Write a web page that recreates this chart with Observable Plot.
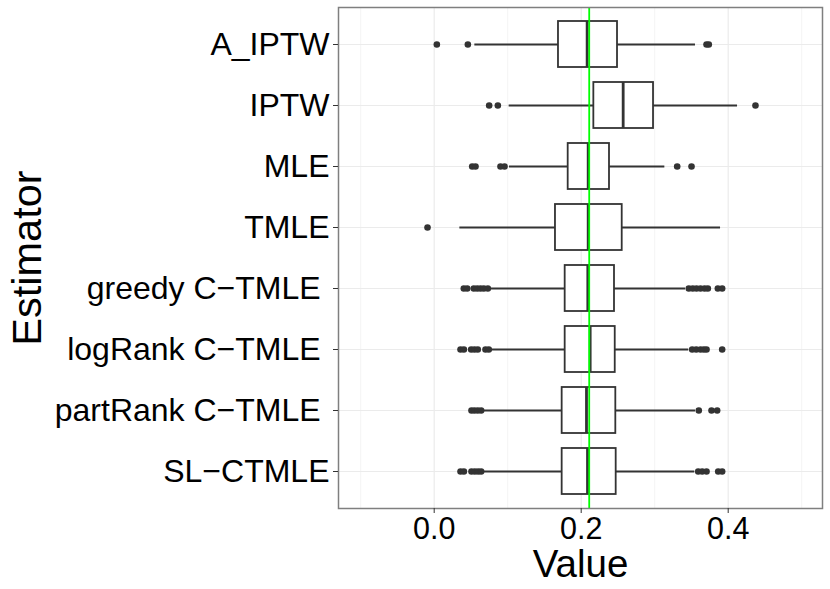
<!DOCTYPE html>
<html>
<head>
<meta charset="utf-8">
<script src="https://cdn.jsdelivr.net/npm/d3@7"></script>
<script src="https://cdn.jsdelivr.net/npm/@observablehq/plot@0.6"></script>
<style>
  html, body { margin: 0; padding: 0; background: white; }
</style>
</head>
<body>
<div id="chart"></div>
<script>
// Categories (top to bottom); trailing space mirrors the original labels
const categories = ["A_IPTW", "IPTW", "MLE", "TMLE", "greedy C\u2212TMLE ", "logRank C\u2212TMLE ", "partRank C\u2212TMLE ", "SL\u2212CTMLE"];

// Box summary statistics
const whiskerLow  = [0.0553, 0.1020, 0.1024, 0.0349, 0.0776, 0.0776, 0.0684, 0.0684];
const quartile1   = [0.1691, 0.2172, 0.1823, 0.1650, 0.1782, 0.1782, 0.1741, 0.1741];
const median      = [0.2081, 0.2571, 0.2095, 0.2095, 0.2090, 0.2122, 0.2072, 0.2086];
const quartile3   = [0.2494, 0.2984, 0.2385, 0.2558, 0.2453, 0.2463, 0.2471, 0.2476];
const whiskerHigh = [0.3555, 0.4127, 0.3138, 0.3896, 0.3419, 0.3464, 0.3555, 0.3546];

// Outliers per category
const outliers = [
  [0.0036, 0.0458, 0.3705, 0.3736],
  [0.0748, 0.0866, 0.4371],
  [0.0517, 0.0562, 0.0902, 0.0957, 0.3306, 0.3501],
  [-0.0091],
  [0.0403, 0.0449, 0.0539, 0.0585, 0.0630, 0.0675, 0.0730, 0.3464, 0.3518, 0.3569, 0.3623, 0.3678, 0.3723, 0.3859, 0.3918],
  [0.0358, 0.0404, 0.0503, 0.0548, 0.0593, 0.0698, 0.0743, 0.3510, 0.3565, 0.3623, 0.3668, 0.3705, 0.3918],
  [0.0507, 0.0548, 0.0593, 0.0639, 0.3600, 0.3773, 0.3850],
  [0.0358, 0.0404, 0.0507, 0.0553, 0.0598, 0.0639, 0.3592, 0.3646, 0.3705, 0.3864, 0.3918]
];

// Reference (true) value line
const truth = [0.2109];

// Axis ticks
const majorTicks = [0.0, 0.2, 0.4];
const minorTicks = [-0.1, 0.1, 0.3, 0.5];
const xDomain = [-0.1302, 0.5283];

const rows = categories.map((name, i) => ({
  name, lo: whiskerLow[i], q1: quartile1[i], med: median[i], q3: quartile3[i], hi: whiskerHigh[i]
}));
const outlierRows = categories.flatMap((name, i) => outliers[i].map(value => ({name, value})));

const ink = "#333333";

const chart = Plot.plot({
  width: 830,
  height: 589,
  marginLeft: 338,
  marginRight: 8,
  marginTop: 7,
  marginBottom: 81,
  style: {fontFamily: "'Liberation Sans', Arial, Helvetica, sans-serif", background: "white", color: "black"},
  x: {domain: xDomain, axis: null, label: null},
  y: {domain: categories, paddingInner: 0.25, paddingOuter: 0.225, axis: null, label: null},
  marks: [
    Plot.ruleX(minorTicks, {stroke: "#f4f4f4", strokeWidth: 1}),
    Plot.ruleX(majorTicks, {stroke: "#ebebeb", strokeWidth: 1.2}),
    Plot.ruleY(categories, {stroke: "#ebebeb", strokeWidth: 1.2}),
    Plot.ruleY(rows, {y: "name", x1: "lo", x2: "q1", stroke: ink, strokeWidth: 1.8}),
    Plot.ruleY(rows, {y: "name", x1: "q3", x2: "hi", stroke: ink, strokeWidth: 1.8}),
    Plot.barX(rows, {y: "name", x1: "q1", x2: "q3", fill: "white", stroke: ink, strokeWidth: 1.8}),
    Plot.tickX(rows, {y: "name", x: "med", stroke: ink, strokeWidth: 2.8}),
    Plot.dot(outlierRows, {x: "value", y: "name", r: 3.3, fill: ink, stroke: "none"}),
    Plot.ruleX(truth, {stroke: "#00ff00", strokeWidth: 1.8}),
    Plot.frame({stroke: "#7f7f7f", strokeWidth: 1.5}),
    Plot.axisX({ticks: majorTicks, tickFormat: d3.format(".1f"), tickSize: 5, tickPadding: 4, fontSize: 30.5, stroke: ink, fill: "black", label: null}),
    Plot.axisY({tickSize: 5, tickPadding: 4, fontSize: 32, stroke: ink, fill: "black", label: null,
      tickFormat: d => d.replace(/ $/, "\u00a0")}),
    Plot.text(["Value"], {text: d => d, frameAnchor: "bottom", textAnchor: "middle", lineAnchor: "middle", dy: 56, fontSize: 38.5, fill: "black"}),
    Plot.text(["Estimator"], {text: d => d, frameAnchor: "left", textAnchor: "middle", lineAnchor: "middle", rotate: -90, dx: -311, fontSize: 41.5, fill: "black"})
  ]
});

document.getElementById("chart").appendChild(chart);
</script>
</body>
</html>
